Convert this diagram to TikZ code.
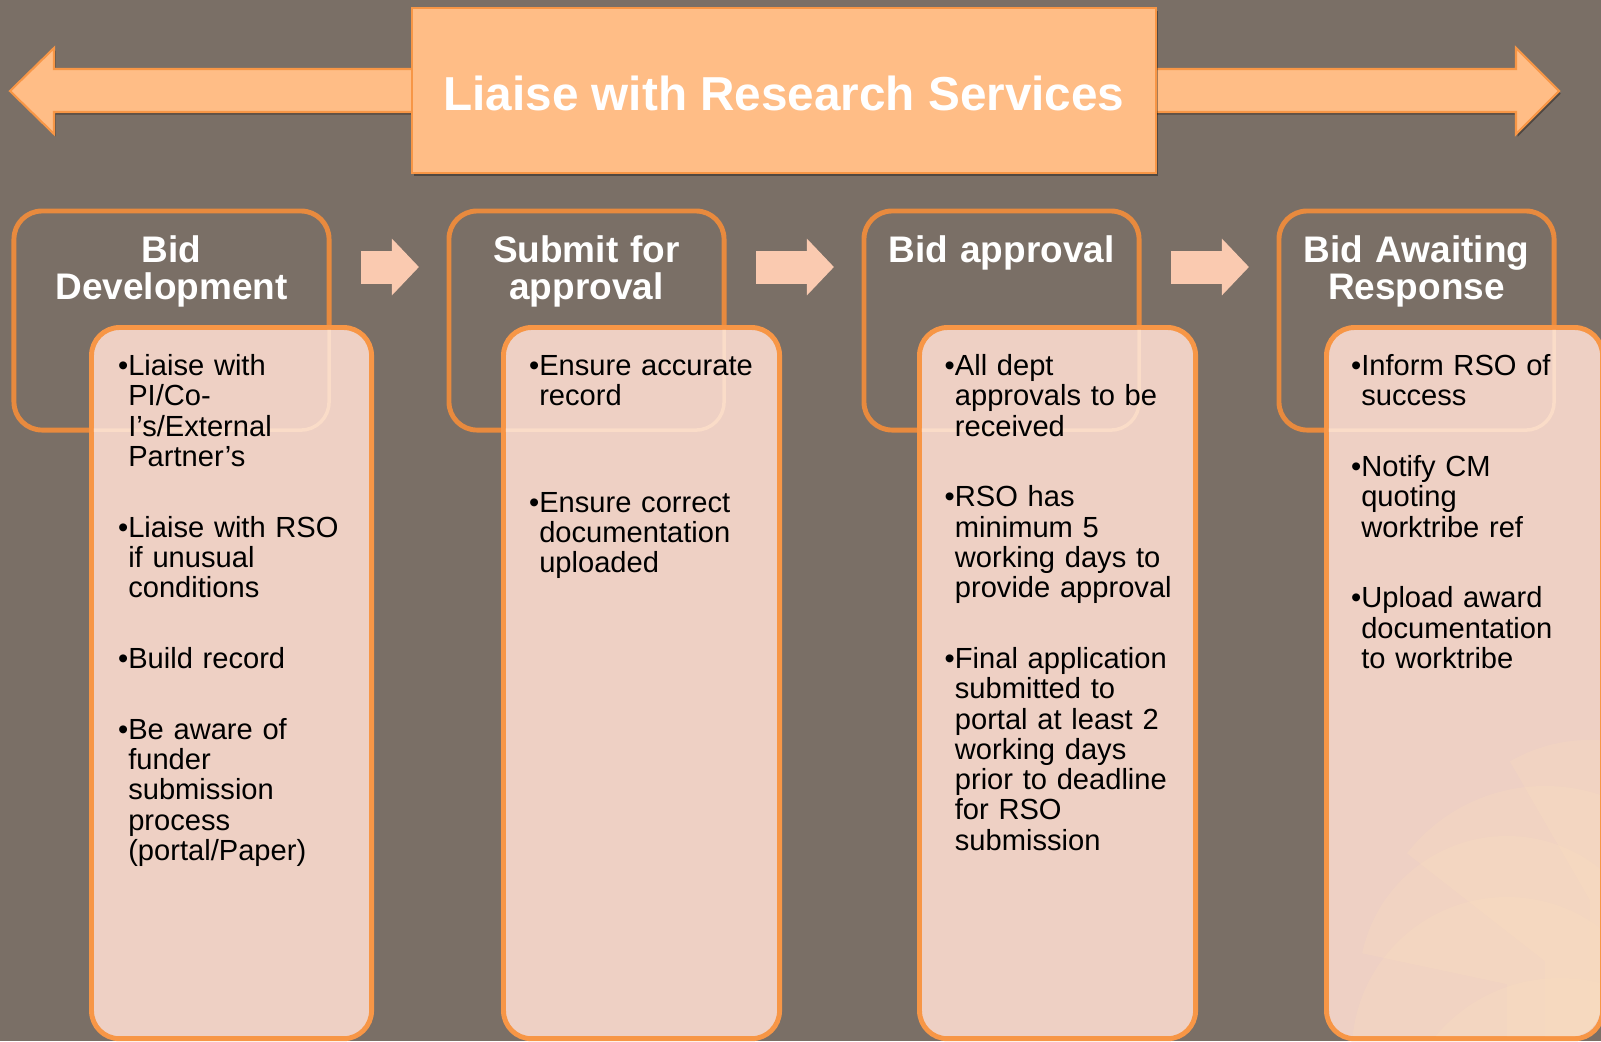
\documentclass[tikz,border=0pt]{standalone}
\usepackage{fontspec}
\setmainfont{Liberation Sans}
\usetikzlibrary{arrows.meta,shadows}

\definecolor{bg}{HTML}{7A6F66}
\definecolor{bannerfill}{HTML}{FFBD86}
\definecolor{bannerline}{HTML}{F79646}
\definecolor{headline}{HTML}{E88A3E}
\definecolor{bodyfill}{HTML}{EED0C4}
\definecolor{bodyline}{HTML}{F79646}
\definecolor{flowfill}{HTML}{FACAB0}
\definecolor{ghostline}{HTML}{FADCC8}
\definecolor{decorfill}{HTML}{FADDBF}

\newcommand{\bul}{\leavevmode\llap{•}}

\begin{document}
\begin{tikzpicture}[x=0.025cm, y=-0.025cm,
  shadowed/.style={drop shadow={shadow xshift=1.2pt, shadow yshift=-1.8pt, opacity=0.35, fill=black}},
  banner/.style={fill=bannerfill, draw=bannerline, line width=1.5pt},
  title/.style={banner, inner sep=0pt, outer sep=0pt, minimum width=18.6cm, minimum height=4.125cm,
    text height=0.975cm, text depth=0pt, text=white, font=\fontsize{33.9}{40}\selectfont\bfseries},
  head/.style={draw=headline, line width=3.5pt, rounded corners=0.7cm, inner sep=0pt, outer sep=0pt,
    anchor=base, align=center, text width=#1, text height=1.275cm, text depth=4.2cm,
    text=white, font=\fontsize{26.3}{26.7}\selectfont\bfseries},
  head/.default=6.875cm,
  body/.style={fill=bodyfill, draw=bodyline, line width=3.5pt, rounded corners=0.7cm, inner sep=0pt,
    outer sep=0pt, anchor=north west, minimum width=6.9cm, minimum height=17.775cm},
  items/.style={anchor=base west, align=left, text width=6.2cm, inner sep=0pt,
    font=\fontsize{20.7}{21.55}\selectfont},
  flow/.style={draw=flowfill, line width=0.825cm, -{Triangle[length=0.675cm, width=1.375cm]},
    shorten <=0.8cm, shorten >=0.75cm},
  ghost/.style={draw=ghostline, line width=2.5pt, rounded corners=0.7cm},
  decor/.style={fill=decorfill, fill opacity=0.3}]

  \fill[bg] (0,0) rectangle (1601,1041);
  \useasboundingbox (0,0) rectangle (1601,1041);

  \draw[banner, shadowed] (10,91) -- (54,48) -- (54,69) -- (1516,69) -- (1516,48) -- (1559,91)
    -- (1516,134) -- (1516,112) -- (54,112) -- (54,134) -- cycle;
  \node[title, shadowed] (lrs) at (784,90.5) {Liaise with Research Services};

  \node[head=7.875cm] (h1) at (171.5,262) {Bid\\Development};
  \node[head] (h2) at (586.5,262) {Submit for\\approval};
  \node[head] (h3) at (1001.5,262) {Bid approval};
  \node[head] (h4) at (1416.5,262) {Bid Awaiting\\Response};

  \foreach \a/\b in {h1/h2,h2/h3,h3/h4}
    \draw[flow] ([yshift=1.3375cm]\a.east) -- ([yshift=1.3375cm]\b.west);

  \node[body, minimum width=7cm] (b1) at (91.5,327.5) {};
  \node[body] (b2) at (503.5,327.5) {};
  \node[body] (b3) at (919.5,327.5) {};
  \node[body] (b4) at (1326.5,327.5) {};

  \foreach \n in {1,...,4}{
    \begin{scope}
      \clip[rounded corners=0.7cm] ([xshift=1.75pt,yshift=-1.75pt]b\n.north west)
        rectangle ([xshift=-1.75pt,yshift=1.75pt]b\n.south east);
      \draw[ghost] (h\n.north west) rectangle (h\n.south east);
    \end{scope}
  }

  \begin{scope}
    \clip[rounded corners=0.7cm] ([xshift=1.75pt,yshift=-1.75pt]b4.north west)
      rectangle ([xshift=-1.75pt,yshift=1.75pt]b4.south east);
    \foreach \cx/\cy/\r/\s in {1590/900/160/-120, 1545/961/175/-142, 1507/984/148/-168,
                               1507/1052/155/-185, 1560/1140/162/-140}
      \fill[decor] (\cx,\cy) -- ++(\s:\r) arc[start angle=\s, end angle=90, radius=\r] -- cycle;
  \end{scope}

  \node[items] (t1) at (128,375.5) {\bul Liaise with\\PI/Co-\\I’s/External\\Partner’s\\[1.01cm]
    \bul Liaise with RSO\\if unusual\\conditions\\[1.01cm]
    \bul Build record\\[1.01cm]
    \bul Be aware of\\funder\\submission\\process\\(portal/Paper)};
  \node[items] (t2) at (539,375.5) {\bul Ensure accurate\\record\\[1.905cm]
    \bul Ensure correct\\documentation\\uploaded};
  \node[items] (t3) at (954.6,375.5) {\bul All dept\\approvals to be\\received\\[1.01cm]
    \bul RSO has\\minimum 5\\working days to\\provide approval\\[1.01cm]
    \bul Final application\\submitted to\\portal at least 2\\working days\\prior to deadline\\for RSO\\submission};
  \node[items] (t4) at (1361,375.5) {\bul Inform RSO of\\success\\[1.01cm]
    \bul Notify CM\\quoting\\worktribe ref\\[1.01cm]
    \bul Upload award\\documentation\\to worktribe};
\end{tikzpicture}
\end{document}
